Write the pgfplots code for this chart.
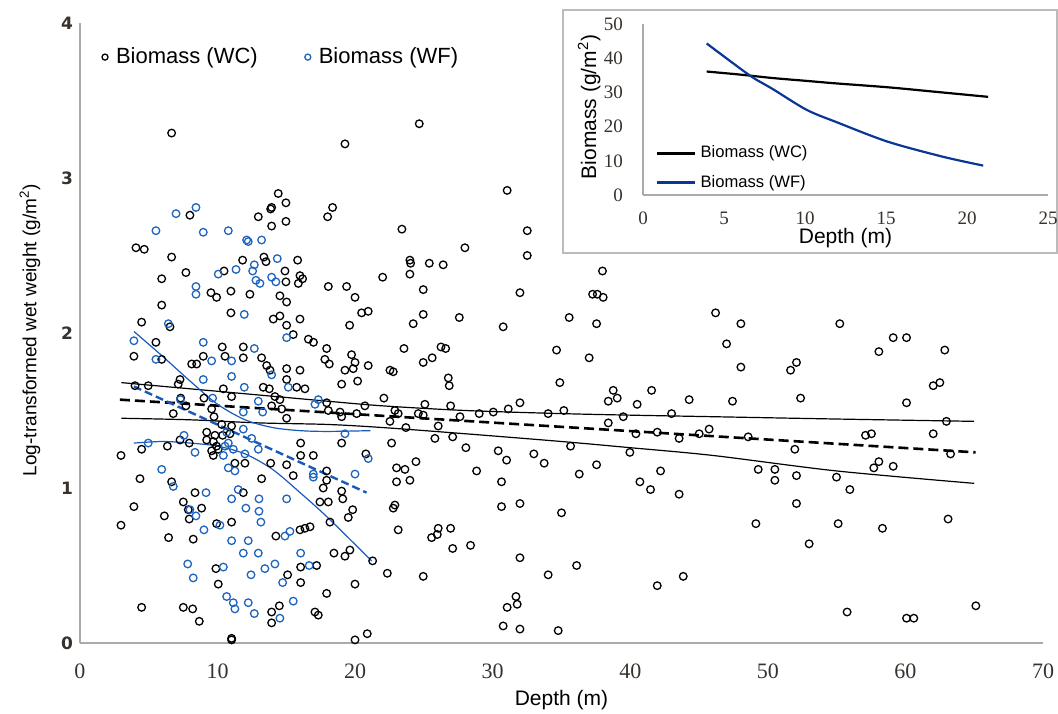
\documentclass[border=0pt]{standalone}
\usepackage{fontspec}
\setmainfont{Liberation Sans}
\newfontfamily\tickserif{Liberation Serif}
\newfontfamily\ticksans{DejaVu Sans}
\usepackage{pgfplots}
\usepackage{pgfplotstable}
\pgfplotsset{compat=1.18}

\definecolor{wfblue}{RGB}{30,100,190}
\definecolor{wfline}{RGB}{25,90,185}
\definecolor{insetblue}{RGB}{10,55,150}
\definecolor{axgray}{RGB}{170,170,170}
\definecolor{ticktxt}{RGB}{55,50,45}

% biomass, wild-caught (black circles)
\pgfplotstableread{
x y
5.94 2.18
10.97 2.13
4.48 2.07
6.54 2.04
14.05 2.09
14.53 2.11
15.02 2.05
15.99 2.09
15.5 1.99
15.02 2.20
19.6 2.05
20.47 2.13
20.95 2.14
16.6 1.96
16.97 1.94
5.52 1.94
3.92 1.85
5.94 1.83
10.34 1.91
10.54 1.85
11.87 1.91
11.87 1.84
8.96 1.85
8.48 1.80
8.12 1.80
13.2 1.84
13.57 1.79
13.81 1.76
15.02 1.77
15.02 1.70
15.99 1.76
17.93 1.90
17.8 1.83
18.12 1.80
19.74 1.86
19.99 1.81
19.86 1.77
20.18 1.69
19.26 1.76
19.02 1.67
20.95 1.79
22.53 1.76
22.77 1.75
22.09 1.58
7.27 1.70
7.14 1.67
4.0 1.66
4.96 1.66
10.42 1.64
11.02 1.59
13.32 1.65
13.76 1.64
14.17 1.59
13.93 1.53
14.53 1.57
14.66 1.51
15.02 1.45
15.75 1.65
16.35 1.64
17.93 1.55
18.05 1.50
18.9 1.49
19.02 1.46
20.11 1.48
20.71 1.53
22.89 1.50
22.53 1.43
7.32 1.58
7.70 1.53
6.78 1.48
9.01 1.58
9.57 1.51
9.74 1.46
10.3 1.41
11.02 1.40
10.9 1.35
10.37 1.34
9.21 1.36
9.81 1.34
9.21 1.31
9.69 1.30
9.93 1.27
10.05 1.25
9.57 1.24
9.69 1.21
7.27 1.31
7.94 1.29
4.48 1.25
6.35 1.27
2.98 1.21
4.36 1.06
6.66 1.04
3.92 0.88
2.98 0.76
6.13 0.82
6.44 0.68
7.51 0.91
8.36 0.97
7.87 0.86
7.94 0.80
8.84 0.87
8.23 0.67
9.93 0.77
11.02 0.78
11.87 0.97
11.26 1.16
11.99 1.16
13.2 1.06
13.86 1.16
15.02 1.15
15.5 1.08
16.04 1.29
16.04 1.21
16.96 1.21
17.93 1.11
17.93 1.05
17.68 1.00
19.02 1.29
20.78 1.22
22.65 1.29
19.02 0.98
19.1 0.93
17.44 0.91
18.05 0.91
19.82 0.86
19.5 0.81
18.17 0.78
21.27 0.53
22.89 0.89
22.77 0.87
23.13 0.73
23.01 1.13
23.01 1.04
14.24 0.69
15.99 0.73
16.35 0.74
16.72 0.75
16.04 0.49
16.04 0.39
17.2 0.50
18.46 0.58
19.26 0.56
19.62 0.60
17.93 0.32
19.99 0.38
22.34 0.45
15.09 0.44
9.88 0.48
10.05 0.38
4.48 0.23
7.51 0.23
8.19 0.22
8.67 0.14
11.02 0.03
11.02 0.02
13.93 0.20
14.49 0.24
13.93 0.13
17.08 0.20
17.32 0.18
19.99 0.02
20.88 0.06
6.66 3.29
19.26 3.22
14.41 2.90
14.97 2.84
13.93 2.81
13.86 2.80
14.97 2.72
13.93 2.69
12.96 2.75
18.36 2.81
18.0 2.75
7.99 2.76
4.07 2.55
4.67 2.54
6.66 2.49
7.70 2.39
5.94 2.35
11.82 2.47
13.37 2.49
13.52 2.46
15.82 2.47
10.47 2.40
14.9 2.40
15.99 2.37
16.18 2.35
15.87 2.32
14.97 2.33
18.05 2.30
19.38 2.30
19.99 2.23
22.0 2.36
9.52 2.26
9.93 2.23
10.97 2.27
12.35 2.25
14.53 2.24
24.66 3.35
31.05 2.92
23.4 2.67
32.51 2.66
32.51 2.50
27.98 2.55
23.98 2.47
24.03 2.45
23.98 2.38
25.39 2.45
26.4 2.44
24.95 2.28
31.98 2.26
37.98 2.40
37.26 2.25
37.6 2.25
38.03 2.23
46.2 2.13
24.22 2.06
24.95 2.12
27.57 2.10
30.76 2.04
35.56 2.10
37.55 2.06
23.55 1.90
24.95 1.81
25.6 1.84
26.24 1.91
26.58 1.90
26.77 1.71
26.84 1.66
34.64 1.89
37.01 1.84
34.88 1.68
38.76 1.63
38.4 1.56
39.05 1.58
40.5 1.54
41.55 1.63
44.28 1.57
43.0 1.48
39.49 1.46
38.4 1.42
23.13 1.48
23.69 1.39
25.07 1.54
24.59 1.48
24.95 1.47
26.04 1.40
25.8 1.32
26.94 1.53
27.62 1.46
27.09 1.33
28.05 1.26
29.02 1.48
30.04 1.49
31.13 1.51
31.98 1.55
34.03 1.48
35.17 1.50
35.66 1.27
30.4 1.24
31.01 1.18
32.99 1.22
33.74 1.16
28.83 1.11
30.64 1.04
36.29 1.09
37.55 1.15
39.97 1.23
40.41 1.35
41.96 1.36
43.55 1.32
45.01 1.35
45.73 1.38
24.42 1.17
23.62 1.12
23.98 1.05
26.04 0.74
25.97 0.70
25.56 0.68
26.94 0.74
27.09 0.61
28.39 0.63
30.64 0.88
31.98 0.90
35.0 0.84
40.7 1.04
41.47 0.99
42.2 1.11
43.55 0.96
24.95 0.43
31.98 0.55
34.03 0.44
36.1 0.50
31.69 0.30
31.05 0.23
31.78 0.25
30.76 0.11
31.98 0.09
34.76 0.08
41.96 0.37
43.85 0.43
48.04 2.06
55.23 2.06
47.0 1.93
59.11 1.97
60.08 1.97
58.07 1.88
62.86 1.89
48.04 1.78
52.08 1.81
51.65 1.76
62.02 1.66
62.5 1.68
47.43 1.56
52.38 1.58
60.08 1.55
62.98 1.43
48.57 1.33
51.96 1.25
57.1 1.34
57.53 1.35
62.02 1.35
63.28 1.22
49.3 1.12
50.51 1.12
50.51 1.05
52.08 1.08
54.99 1.07
55.96 0.99
58.07 1.17
57.7 1.13
59.11 1.14
52.08 0.90
49.13 0.77
55.11 0.77
53.0 0.64
58.33 0.74
63.1 0.80
55.76 0.20
60.08 0.16
60.61 0.16
65.12 0.24
}\wcdata

% biomass, wild-farmed (blue circles)
\pgfplotstableread{
x y
6.42 2.06
11.94 2.12
5.52 1.83
12.67 1.90
8.96 1.94
9.57 1.82
11.02 1.82
11.02 1.72
11.94 1.65
13.93 1.73
8.96 1.70
15.14 1.65
12.96 1.56
13.28 1.49
11.87 1.49
17.32 1.57
17.08 1.54
7.30 1.57
9.64 1.58
10.66 1.36
10.78 1.29
10.54 1.27
11.14 1.25
11.87 1.38
12.48 1.32
12.96 1.25
11.99 1.22
10.42 1.21
7.56 1.34
8.36 1.23
4.96 1.29
5.94 1.12
6.78 1.01
7.99 0.86
8.43 0.82
9.16 0.97
9.01 0.73
10.17 0.76
11.02 0.66
12.23 0.66
11.87 0.58
11.02 0.93
12.06 0.87
13.01 0.93
13.01 0.85
13.15 0.78
11.50 0.99
10.78 1.13
11.26 1.11
15.02 0.93
16.96 1.09
16.96 1.07
19.26 1.35
19.99 1.09
20.95 1.19
14.90 0.69
15.26 0.72
16.04 0.58
16.66 0.50
13.44 0.48
14.17 0.51
14.73 0.39
15.50 0.27
12.43 0.44
12.96 0.58
10.42 0.49
7.83 0.51
8.23 0.42
10.66 0.30
11.14 0.26
11.26 0.22
12.23 0.26
12.67 0.19
14.53 0.16
3.92 1.95
15.02 1.97
8.43 2.81
6.98 2.77
5.52 2.66
8.96 2.65
10.78 2.66
12.11 2.60
12.23 2.59
13.20 2.60
14.34 2.48
12.67 2.44
12.55 2.40
11.34 2.41
10.05 2.38
12.79 2.34
13.08 2.32
13.93 2.36
14.24 2.33
8.43 2.30
8.43 2.25
}\wfdata

\begin{document}
\begin{tikzpicture}
\useasboundingbox (0,0) rectangle (529pt,356.5pt);

% main scatter plot
\begin{axis}[
  at={(40pt,35pt)}, anchor=south west,
  scale only axis, width=481.5pt, height=310pt,
  xmin=0, xmax=70, ymin=0, ymax=4,
  axis x line=bottom, axis y line=left,
  axis line style={-, axgray, line width=0.8pt},
  major tick length=0pt,
  xtick={0,10,...,70}, ytick={0,1,2,3,4},
  /pgf/number format/assume math mode=true,
  xticklabel style={font=\tickserif\fontsize{11}{12}\selectfont, text=ticktxt, yshift=-7pt},
  yticklabel style={font=\ticksans\bfseries\fontsize{8.5}{10}\selectfont, text=ticktxt, xshift=0pt},
  xlabel={Depth (m)},
  xlabel style={at={(axis description cs:0.5,-0.092)}, anchor=center, font=\fontsize{10.5}{12}\selectfont},
  ylabel={Log-transformed wet weight (g/m\textsuperscript{2})},
  ylabel style={at={(axis description cs:-0.052,0.505)}, anchor=center, font=\fontsize{9.5}{11}\selectfont},
  clip=false,
  legend style={at={(axis cs:1.5,3.78)}, anchor=west, draw=none, fill=none, inner sep=0pt,
    legend columns=2, font=\fontsize{11}{12}\selectfont,
    /tikz/every even column/.append style={column sep=21pt}},
  legend image code/.code={\path[draw=none] (0pt,0pt) -- (5.5pt,0pt);
    \draw[#1, mark size=1.5pt] plot coordinates {(2pt,0pt)};},
]
\addplot[only marks, mark=o, mark size=1.9pt, mark options={draw=black, line width=0.65pt}]
  table {\wcdata};
\addlegendentry{Biomass (WC)}
\addplot[only marks, mark=o, mark size=1.9pt, mark options={draw=wfblue, line width=0.65pt}]
  table {\wfdata};
\addlegendentry{Biomass (WF)}

% WC fit and confidence band
\addplot[forget plot, black, line width=0.6pt, smooth] coordinates {
  (3,1.68) (8,1.64) (13,1.60) (18,1.56) (22,1.53) (28,1.50) (35,1.48) (40,1.47) (46,1.46) (55,1.445) (65,1.43)};
\addplot[forget plot, black, line width=0.6pt, smooth] coordinates {
  (3,1.45) (8,1.44) (13,1.42) (18,1.41) (22,1.39) (28,1.35) (35,1.30) (40,1.26) (46,1.21) (55,1.11) (65,1.03)};
\addplot[forget plot, black, line width=1.3pt, dash pattern=on 5pt off 2.5pt] coordinates {
  (2.9,1.57) (65.1,1.23)};

% WF fit and confidence band
\addplot[forget plot, wfline, line width=0.6pt, smooth] coordinates {
  (3.92,2.01) (6,1.85) (8,1.69) (10,1.54) (12,1.44) (14,1.39) (16,1.37) (18,1.365) (21.1,1.37)};
\addplot[forget plot, wfline, line width=0.6pt, smooth] coordinates {
  (3.92,1.29) (6,1.30) (8,1.29) (10,1.27) (12,1.22) (14,1.12) (16,0.97) (18,0.81) (21.2,0.53)};
\addplot[forget plot, wfline, line width=1.2pt, dash pattern=on 4pt off 2pt] coordinates {
  (3.92,1.655) (20.83,0.97)};
\end{axis}

% inset panel
\draw[axgray!80, line width=0.8pt, fill=white] (281.5pt,230pt) rectangle (528.5pt,351.5pt);
\begin{axis}[
  at={(321.5pt,259pt)}, anchor=south west,
  scale only axis, width=202.5pt, height=85.5pt,
  xmin=0, xmax=25, ymin=0, ymax=50,
  axis x line=bottom, axis y line=left,
  axis line style={-, axgray, line width=0.8pt},
  major tick length=0pt,
  xtick={0,5,...,25}, ytick={0,10,...,50},
  /pgf/number format/assume math mode=true,
  xticklabel style={font=\tickserif\fontsize{9.5}{11}\selectfont, text=ticktxt, yshift=-5pt},
  yticklabel style={font=\tickserif\fontsize{9.5}{11}\selectfont, text=ticktxt, xshift=-6.5pt},
  xlabel={Depth (m)},
  xlabel style={at={(axis description cs:0.5,-0.25)}, anchor=center, font=\fontsize{10.5}{12}\selectfont},
  ylabel={Biomass (g/m\textsuperscript{2})},
  ylabel style={at={(axis description cs:-0.133,0.515)}, anchor=center, font=\fontsize{10.5}{12}\selectfont},
  clip=false,
  legend style={at={(axis cs:0.8,7.9)}, anchor=west, draw=none, fill=none, inner sep=0pt,
    font=\fontsize{8.3}{9.5}\selectfont, row sep=3pt},
  legend cell align=left,
  legend image code/.code={\draw[#1] (0pt,0pt) -- (19pt,0pt);},
]
\addplot[black, line width=1.1pt, smooth] coordinates {
  (3.93,36.1) (6,35.2) (8,34.2) (10,33.4) (12,32.6) (15.1,31.5) (18,30.2) (21.3,28.7)};
\addlegendentry{Biomass (WC)}
\addplot[insetblue, line width=1.1pt, smooth] coordinates {
  (3.93,44.3) (5,40.5) (6.7,34.6) (8,31.0) (10.1,24.9) (12,21.2) (15.1,15.6) (18.5,11.2) (21,8.6)};
\addlegendentry{Biomass (WF)}
\end{axis}
\end{tikzpicture}
\end{document}
